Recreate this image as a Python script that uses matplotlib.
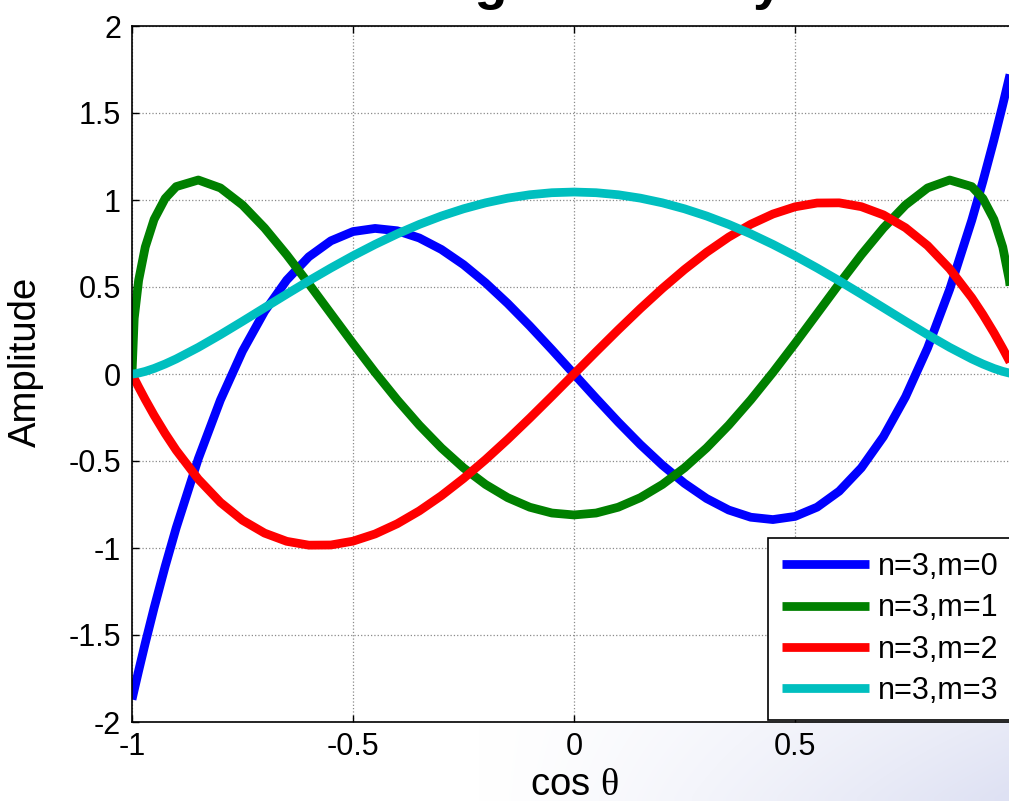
import numpy as np
import matplotlib
matplotlib.use("Agg")
import matplotlib.pyplot as plt

# ---- data (cos theta and normalized associated Legendre amplitudes, n=3) ----
cos_theta = [-1.0, -0.995, -0.985, -0.97, -0.95, -0.925, -0.9, -0.85, -0.8, -0.75,
             -0.7, -0.65, -0.6, -0.55, -0.5, -0.45, -0.4, -0.35, -0.3, -0.25,
             -0.2, -0.15, -0.1, -0.05, 0.0,
             0.05, 0.1, 0.15, 0.2, 0.25, 0.3, 0.35, 0.4, 0.45, 0.5,
             0.55, 0.6, 0.65, 0.7, 0.75, 0.8, 0.85, 0.9, 0.925, 0.95,
             0.97, 0.985, 0.995, 1.0]

amp_m0 = [-1.8708, -1.8151, -1.7056, -1.5466, -1.3441, -1.1059, -0.8840, -0.4870, -0.1497, 0.1315,
          0.3601, 0.5396, 0.6735, 0.7653, 0.8185, 0.8366, 0.8232, 0.7817, 0.7156, 0.6285,
          0.5238, 0.4052, 0.2760, 0.1397, 0.0,
          -0.1397, -0.2760, -0.4052, -0.5238, -0.6285, -0.7156, -0.7817, -0.8232, -0.8366, -0.8185,
          -0.7653, -0.6735, -0.5396, -0.3601, -0.1315, 0.1497, 0.4870, 0.8840, 1.1059, 1.3441,
          1.5466, 1.7056, 1.8151, 1.8708]

amp_m1 = [0.0, 0.3196, 0.5383, 0.7296, 0.8885, 1.0090, 1.0770, 1.1149, 1.0693, 0.9712,
          0.8389, 0.6849, 0.5185, 0.3467, 0.1754, 0.0090, -0.1485, -0.2941, -0.4250, -0.5393,
          -0.6350, -0.7108, -0.7657, -0.7990, -0.8101,
          -0.7990, -0.7657, -0.7108, -0.6350, -0.5393, -0.4250, -0.2941, -0.1485, 0.0090, 0.1754,
          0.3467, 0.5185, 0.6849, 0.8389, 0.9712, 1.0693, 1.1149, 1.0770, 1.0090, 0.8885,
          0.7296, 0.5383, 0.3196, 0.0]

amp_m2 = [0.0, -0.0254, -0.0751, -0.1469, -0.2373, -0.3421, -0.4381, -0.6043, -0.7378, -0.8406,
          -0.9145, -0.9616, -0.9837, -0.9827, -0.9607, -0.9193, -0.8607, -0.7868, -0.6994, -0.6004,
          -0.4919, -0.3756, -0.2536, -0.1278, 0.0,
          0.1278, 0.2536, 0.3756, 0.4919, 0.6004, 0.6994, 0.7868, 0.8607, 0.9193, 0.9607,
          0.9827, 0.9837, 0.9616, 0.9145, 0.8406, 0.7378, 0.6043, 0.4381, 0.3421, 0.2373,
          0.1469, 0.0751, 0.0254, 0.0]

amp_m3 = [0.0, 0.0010, 0.0054, 0.0150, 0.0318, 0.0574, 0.0866, 0.1529, 0.2259, 0.3026,
          0.3809, 0.4590, 0.5355, 0.6092, 0.6793, 0.7448, 0.8052, 0.8597, 0.9079, 0.9493,
          0.9837, 1.0107, 1.0302, 1.0419, 1.0458,
          1.0419, 1.0302, 1.0107, 0.9837, 0.9493, 0.9079, 0.8597, 0.8052, 0.7448, 0.6793,
          0.6092, 0.5355, 0.4590, 0.3809, 0.3026, 0.2259, 0.1529, 0.0866, 0.0574, 0.0318,
          0.0150, 0.0054, 0.0010, 0.0]

series_labels = ["n=3,m=0", "n=3,m=1", "n=3,m=2", "n=3,m=3"]
series_colors = ["#0000ff", "#008000", "#ff0000", "#00bfbf"]
x_ticks = [-1, -0.5, 0, 0.5, 1]
x_tick_labels = ["-1", "-0.5", "0", "0.5", ""]
y_ticks = [-2, -1.5, -1, -0.5, 0, 0.5, 1, 1.5, 2]
y_tick_labels = ["-2", "-1.5", "-1", "-0.5", "0", "0.5", "1", "1.5", "2"]
title_text = "Associated Legendre Polynomials"

plt.rcParams['font.family'] = ['Liberation Sans', 'DejaVu Sans']
plt.rcParams['mathtext.fontset'] = 'custom'
plt.rcParams['mathtext.rm'] = 'Liberation Serif'

W, H = 1009, 801
fig = plt.figure(figsize=(W / 100, H / 100), dpi=100)
fig.patch.set_facecolor("white")

# slide-style lavender gradient in the lower right
bg = fig.add_axes([0, 0, 1, 1], zorder=-10)
gx = np.linspace(0, W, 300)
gy = np.linspace(0, H, 120)
GX, GY = np.meshgrid(gx, gy)
t = np.clip((GX - 480) / 530, 0, 1) ** 1.2 * np.clip(0.6 + 0.4 * (GY - 700) / 100, 0, 1)
c0 = np.array([1.0, 1.0, 1.0])
c1 = np.array([222, 225, 243]) / 255.0
img = c0[None, None, :] * (1 - t[..., None]) + c1[None, None, :] * t[..., None]
bg.imshow(img, extent=[0, W, H, 0], aspect='auto', interpolation='bilinear')
bg.set_xlim(0, W)
bg.set_ylim(H, 0)
bg.axis('off')

# main axes: x=-1 at px 132, x=1 at px 1016; y=2 at px 26, y=-2 at px 722
ax = fig.add_axes([132 / W, (H - 722) / H, 884 / W, 696 / H], zorder=1)
ax.set_facecolor("white")

series = [amp_m0, amp_m1, amp_m2, amp_m3]
for vals, lab, col in zip(series, series_labels, series_colors):
    ax.plot(cos_theta, vals, color=col, lw=6.3, label=lab,
            solid_joinstyle='round', solid_capstyle='butt')

ax.set_xlim(-1, 1)
ax.set_ylim(-2, 2)
ax.set_xticks(x_ticks)
ax.set_xticklabels(x_tick_labels)
ax.set_yticks(y_ticks)
ax.set_yticklabels(y_tick_labels)
ax.tick_params(direction='in', length=5, width=1.0, top=True, right=True,
               labelsize=22, colors='black')
ax.tick_params(axis='x', pad=7)
ax.tick_params(axis='y', pad=8)
ax.grid(True, linestyle=':', color='#8a8a8a', linewidth=0.9)
for sp in ax.spines.values():
    sp.set_linewidth(1.2)
    sp.set_color('black')

ax.set_xlabel(r"cos $\mathrm{\theta}$", fontsize=27.5)
ax.xaxis.set_label_coords(0.5, -0.064)
ax.set_ylabel("Amplitude", fontsize=27.5)
ax.yaxis.set_label_coords(-0.0995, 0.517)

leg = ax.legend(loc='upper left', bbox_to_anchor=(768 / W, 1 - 538 / H),
                bbox_transform=fig.transFigure, borderaxespad=0,
                fontsize=22, handlelength=2.85, handletextpad=0.3,
                borderpad=0.45, labelspacing=0.375, fancybox=False,
                framealpha=1, edgecolor='black')
leg.get_frame().set_linewidth(1.2)

fig.text(548 / W, 802 / H, title_text, ha='center', va='baseline',
         fontsize=38.8, fontweight='bold')

fig.savefig("out.png", dpi=100, facecolor=fig.get_facecolor())
